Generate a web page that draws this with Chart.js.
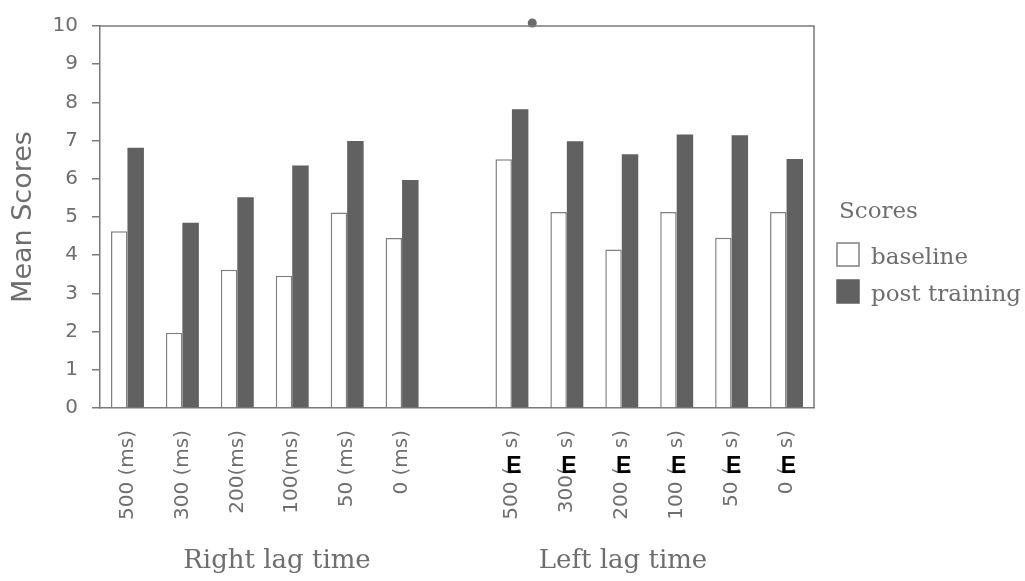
<!DOCTYPE html>
<html>
<head>
<meta charset="utf-8">
<script src="https://cdn.jsdelivr.net/npm/chart.js@4/dist/chart.umd.min.js"></script>
<style>
  html, body { margin: 0; padding: 0; background: #fff; }
  #wrap { width: 1025px; height: 581px; position: relative; }
</style>
</head>
<body>
<div id="wrap"><canvas id="chart"></canvas></div>
<script>
// tick labels, the empty slot in the middle separates the two groups
const rightLabels = ['500 (ms)', '300 (ms)', '200(ms)', '100(ms)', '50 (ms)', '0 (ms)'];
const leftLabels = ['500 (   s)', '300(   s)', '200 (   s)', '100 (   s)', '50 (   s)', '0 (   s)'];
const categories = [...rightLabels, '', ...leftLabels];
const groupNames = ['Right lag time', 'Left lag time'];

const baseline = [4.63, 1.97, 3.62, 3.46, 5.12, 4.45, null, 6.51, 5.13, 4.15, 5.13, 4.46, 5.13];
const postTraining = [6.81, 4.85, 5.52, 6.35, 6.99, 5.97, null, 7.82, 6.98, 6.64, 7.16, 7.14, 6.52];
const yTicks = [0, 1, 2, 3, 4, 5, 6, 7, 8, 9, 10];
const stray = [{ x: 7.37, y: 10.08 }]; // dot on the top border

const grey = '#7a7a7a';
const textGrey = '#6e6e6e';

// bars go on a numeric x axis (slot index) so the stray dot can sit between slots
const toPoints = (arr) => arr.map((v, i) => ({ x: i, y: v })).filter((p) => p.y !== null);

const extras = {
  id: 'extras',
  afterDraw(chart) {
    const ctx = chart.ctx;
    const a = chart.chartArea;
    const xs = chart.scales.x;
    ctx.save();
    // frame top + right
    ctx.strokeStyle = grey;
    ctx.lineWidth = 1.5;
    ctx.beginPath();
    ctx.moveTo(a.left, a.top);
    ctx.lineTo(a.right, a.top);
    ctx.lineTo(a.right, a.bottom);
    ctx.stroke();

    // the black E marks on the left group labels
    ctx.fillStyle = '#000';
    ctx.font = 'bold 23px "Liberation Sans", Arial, sans-serif';
    ctx.textAlign = 'center';
    ctx.textBaseline = 'middle';
    for (let i = rightLabels.length + 1; i < categories.length; i++) {
      ctx.fillText('E', xs.getPixelForValue(i) + 2, 467);
    }

    // group names
    ctx.fillStyle = textGrey;
    ctx.font = '26px "DejaVu Serif", serif';
    ctx.textBaseline = 'alphabetic';
    ctx.fillText(groupNames[0], 277, 568);
    ctx.fillText(groupNames[1], 623, 568);

    // legend
    const ds = chart.data.datasets;
    ctx.textAlign = 'left';
    ctx.font = '23px "DejaVu Serif", serif';
    ctx.fillText('Scores', 839, 218);
    const rows = [255, 292];
    for (let k = 0; k < 2; k++) {
      const y = rows[k];
      ctx.fillStyle = ds[k].backgroundColor;
      ctx.fillRect(837, y - 12, 22, 23);
      ctx.strokeStyle = ds[k].borderColor;
      ctx.lineWidth = 1.5;
      ctx.strokeRect(837, y - 12, 22, 23);
      ctx.fillStyle = textGrey;
      ctx.fillText(ds[k].label, 871, y + 9);
    }
    ctx.restore();
  }
};

new Chart(document.getElementById('chart'), {
  type: 'bar',
  data: {
    datasets: [
      {
        label: 'baseline',
        data: toPoints(baseline),
        backgroundColor: '#ffffff',
        borderColor: '#808080',
        borderWidth: 1.5,
        categoryPercentage: 0.6,
        barPercentage: 1.0,
      },
      {
        label: 'post training',
        data: toPoints(postTraining),
        backgroundColor: '#616161',
        borderColor: '#616161',
        borderWidth: 0,
        categoryPercentage: 0.6,
        barPercentage: 1.0,
      },
      {
        type: 'scatter',
        label: 'dot',
        data: stray,
        backgroundColor: '#6a6a6a',
        borderWidth: 0,
        pointRadius: 4.5,
        clip: false,
      },
    ],
  },
  options: {
    responsive: true,
    maintainAspectRatio: false,
    animation: false,
    layout: { padding: { top: 21, right: 211, left: 0, bottom: 0 } },
    plugins: {
      legend: { display: false },
      tooltip: { enabled: false },
    },
    scales: {
      x: {
        type: 'linear',
        offset: false,
        min: -0.5,
        max: categories.length - 0.5,
        afterBuildTicks: (s) => { s.ticks = categories.map((c, i) => ({ value: i })); },
        grid: { display: false, drawTicks: false },
        border: { display: true, color: grey, width: 1.5 },
        ticks: {
          autoSkip: false,
          maxRotation: 90,
          minRotation: 90,
          padding: 22,
          color: textGrey,
          font: { family: '"DejaVu Sans", sans-serif', size: 20 },
          callback: (v) => categories[v] ?? '',
        },
        afterFit: (s) => { s.height = 173; },
      },
      y: {
        min: 0,
        max: 10,
        afterBuildTicks: (s) => { s.ticks = yTicks.map((v) => ({ value: v })); },
        grid: { drawOnChartArea: false, drawTicks: true, tickLength: 8, color: grey, lineWidth: 1.5 },
        border: { display: true, color: grey, width: 1.5 },
        ticks: {
          padding: 14,
          color: textGrey,
          font: { family: '"DejaVu Sans", sans-serif', size: 20 },
        },
        title: {
          display: true,
          text: 'Mean Scores',
          color: textGrey,
          font: { family: '"DejaVu Sans", sans-serif', size: 27 },
          padding: { top: 8, bottom: 0 },
        },
        afterFit: (s) => { s.width = 100; },
      },
    },
  },
  plugins: [extras],
});
</script>
</body>
</html>
